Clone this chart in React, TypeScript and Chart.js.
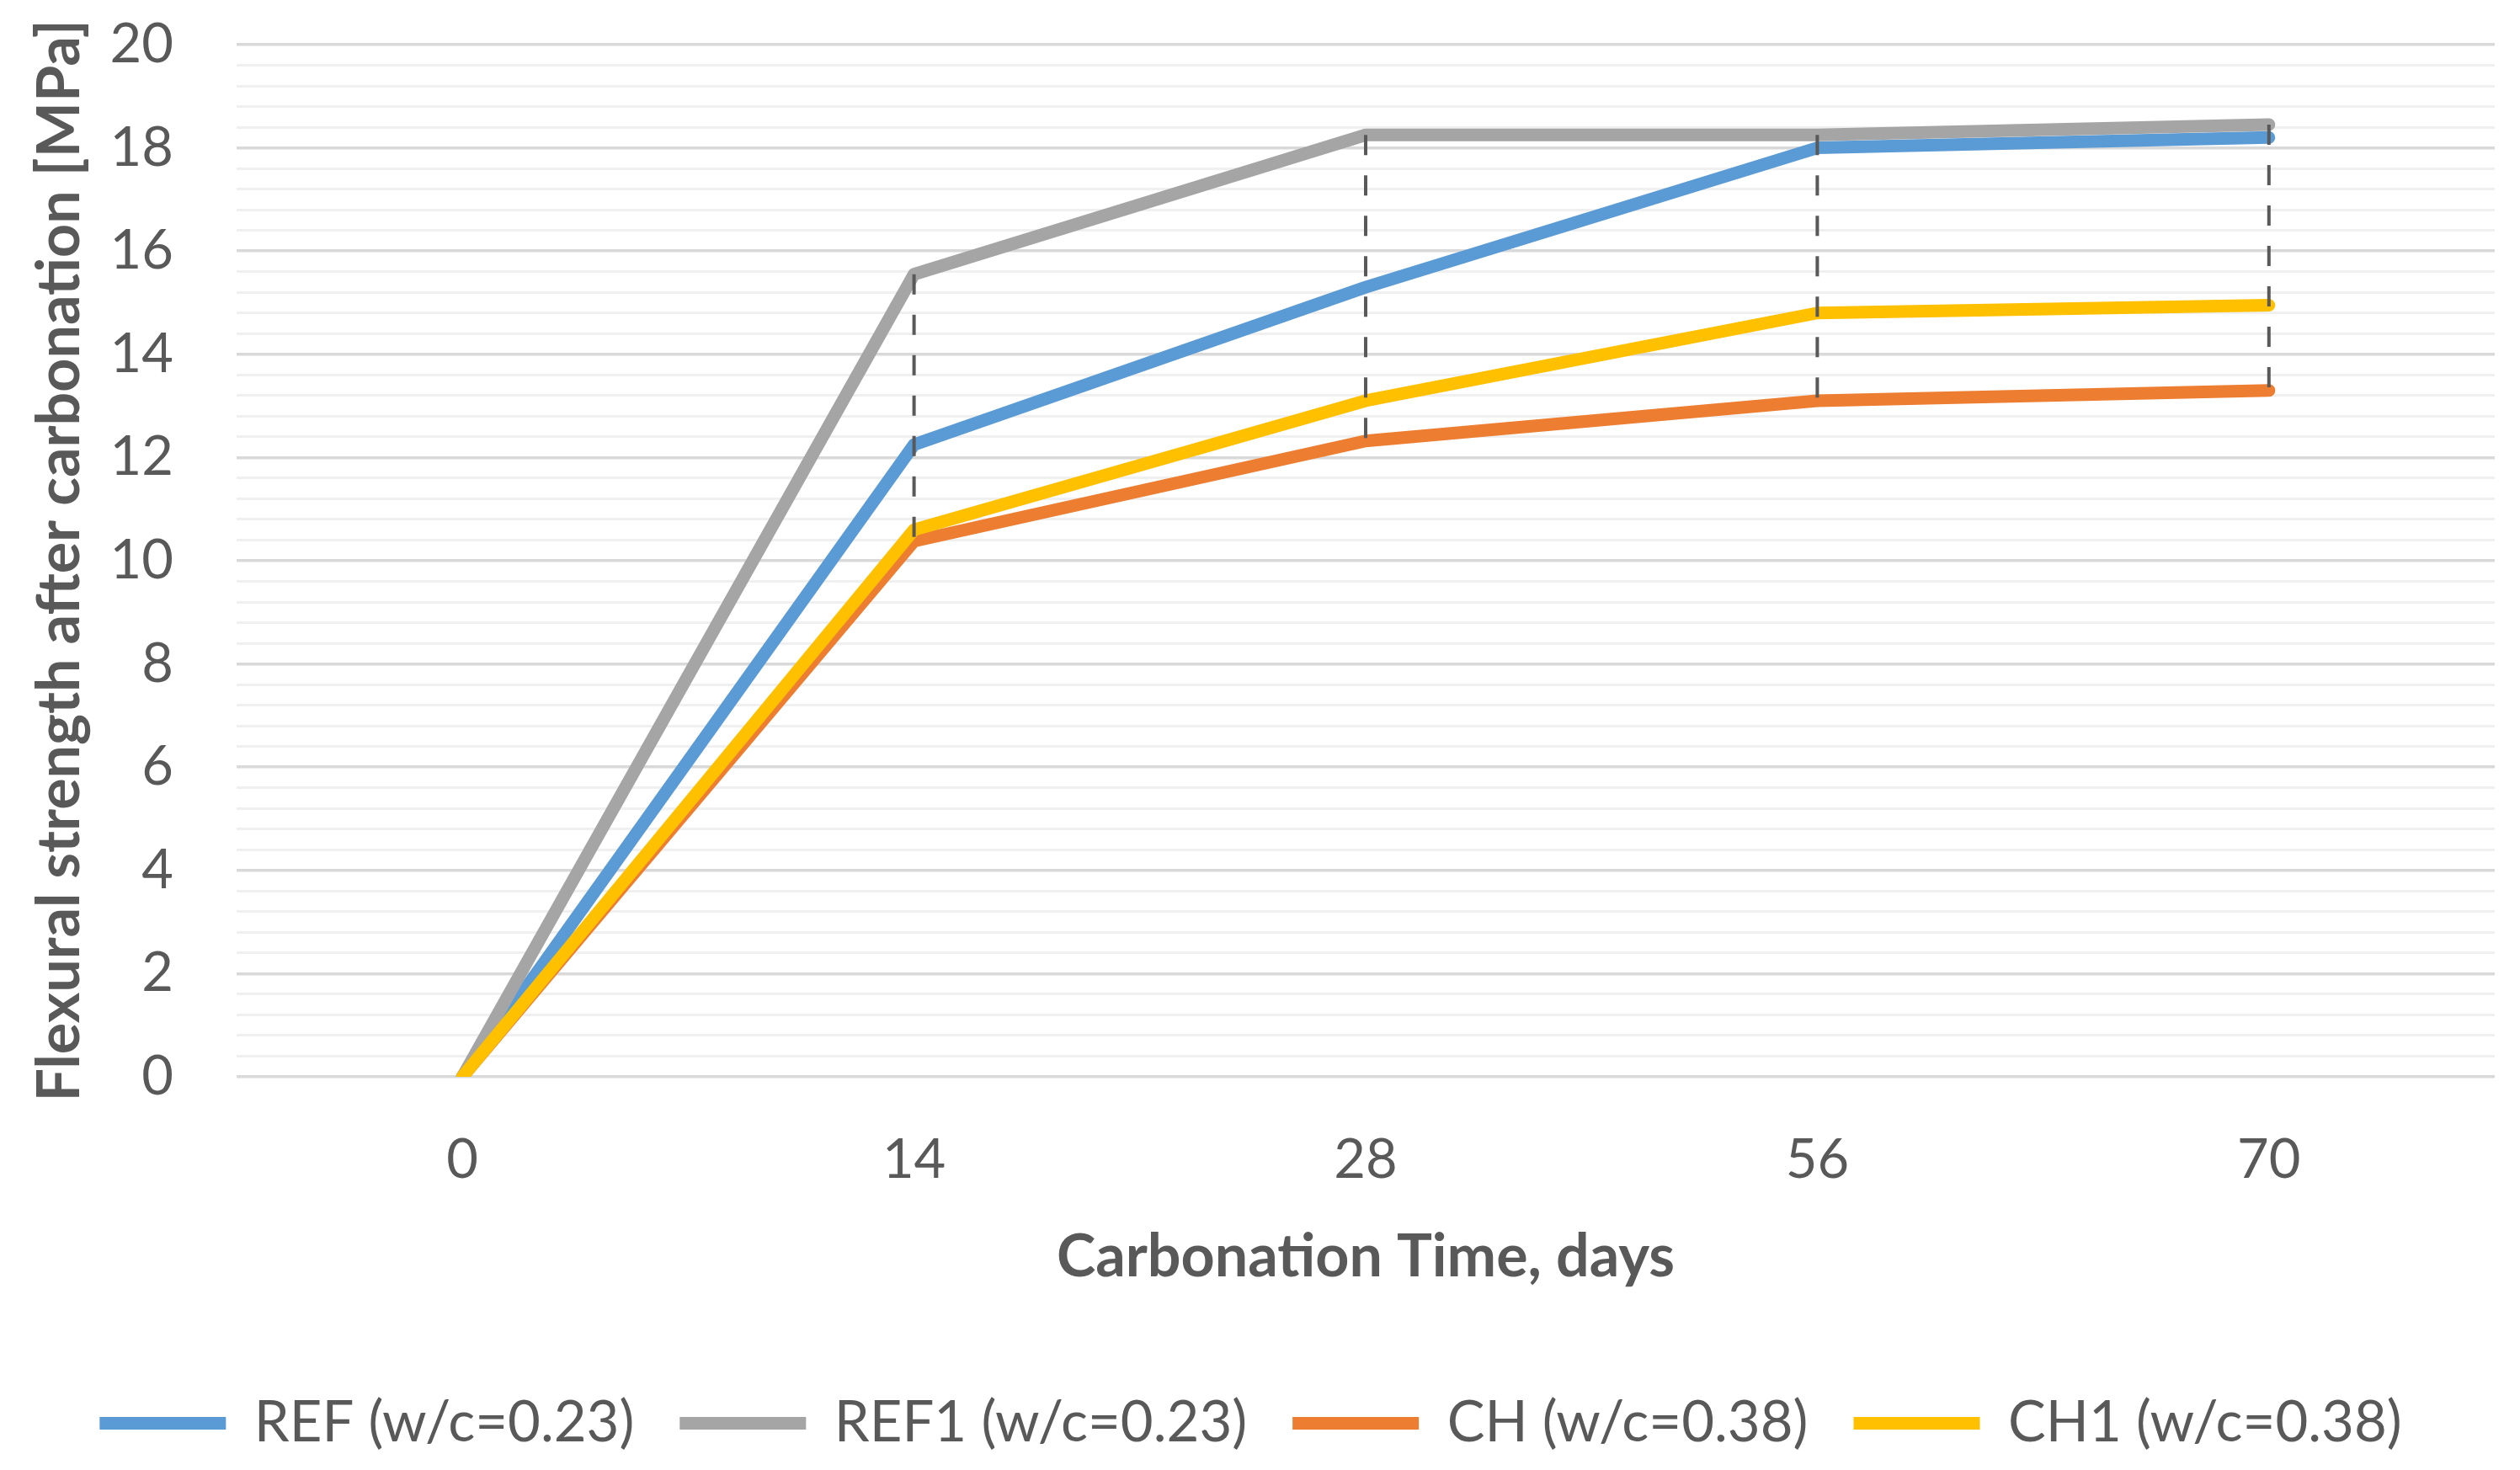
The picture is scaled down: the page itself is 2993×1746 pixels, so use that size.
import React, { useEffect, useRef } from "react";
import { Chart, registerables } from "chart.js";

Chart.register(...registerables);

const days = ["0", "14", "28", "56", "70"];
const refValues = [0, 12.25, 15.3, 18.0, 18.2];
const ref1Values = [0, 15.55, 18.25, 18.25, 18.45];
const chValues = [0, 10.38, 12.32, 13.1, 13.3];
const ch1Values = [0, 10.6, 13.1, 14.8, 14.95];
const yMajorStep = 2;

const TEXT = "#595959";

// dashed high-low lines between the highest and lowest series at each day
const highLowLines = {
    id: "highLowLines",
    afterDatasetsDraw(chart: Chart) {
        const { ctx } = chart;
        const x = chart.scales.x;
        const y = chart.scales.y;
        const series = [refValues, ref1Values, chValues, ch1Values];
        ctx.save();
        ctx.strokeStyle = "#595959";
        ctx.lineWidth = 4;
        ctx.setLineDash([24, 24]);
        days.forEach((_, i) => {
            const vals = series.map((s) => s[i]);
            const hi = Math.max(...vals);
            const lo = Math.min(...vals);
            if (hi === lo) return;
            const px = x.getPixelForValue(i);
            ctx.beginPath();
            ctx.moveTo(px, y.getPixelForValue(hi));
            ctx.lineTo(px, y.getPixelForValue(lo));
            ctx.stroke();
        });
        ctx.restore();
    },
};

const isMajor = (v: number) => Math.abs(v / yMajorStep - Math.round(v / yMajorStep)) < 1e-6;

const lineSet = (label: string, data: number[], color: string, order: number) => ({
    label,
    data,
    borderColor: color,
    backgroundColor: color,
    borderWidth: 15,
    borderCapStyle: "round" as const,
    borderJoinStyle: "round" as const,
    pointRadius: 0,
    pointHoverRadius: 0,
    tension: 0,
    order,
});

const FlexuralChart: React.FC = () => {
    const canvasRef = useRef<HTMLCanvasElement | null>(null);

    useEffect(() => {
        if (!canvasRef.current) return;
        Chart.defaults.font.family = "Lato";
        const chart = new Chart(canvasRef.current, {
            type: "line",
            data: {
                labels: days,
                datasets: [
                    lineSet("REF (w/c=0.23)", refValues, "#5B9BD5", 4),
                    lineSet("REF1 (w/c=0.23)", ref1Values, "#A5A5A5", 3),
                    lineSet("CH (w/c=0.38)", chValues, "#ED7D31", 2),
                    lineSet("CH1 (w/c=0.38)", ch1Values, "#FFC000", 1),
                ],
            },
            options: {
                responsive: true,
                maintainAspectRatio: false,
                animation: false,
                layout: { padding: { top: 45, right: 22, bottom: 4, left: 0 } },
                plugins: {
                    tooltip: { enabled: false },
                    legend: {
                        position: "bottom",
                        maxHeight: 141,
                        labels: {
                            usePointStyle: true,
                            pointStyle: "line",
                            pointStyleWidth: 150,
                            boxHeight: 16,
                            padding: 54,
                            color: TEXT,
                            font: { size: 67 },
                            sort: (a, b) => (a.datasetIndex ?? 0) - (b.datasetIndex ?? 0),
                        },
                    },
                },
                scales: {
                    x: {
                        offset: true,
                        grid: { display: false },
                        border: { display: false },
                        ticks: { color: TEXT, font: { size: 65 }, padding: 52 },
                        title: {
                            display: true,
                            text: "Carbonation Time, days",
                            color: TEXT,
                            font: { size: 70, weight: "bold" },
                            padding: { top: 0, bottom: 68 },
                        },
                        afterFit: (scale) => {
                            scale.height = 324;
                        },
                    },
                    y: {
                        min: 0,
                        max: 20,
                        border: { display: false },
                        grid: {
                            drawTicks: true,
                            tickLength: 75,
                            tickColor: "rgba(0,0,0,0)",
                            color: (ctx) => (ctx.tick && isMajor(ctx.tick.value) ? "#D9D9D9" : "#F0F0F0"),
                            lineWidth: (ctx) => (ctx.tick && isMajor(ctx.tick.value) ? 3.5 : 3),
                        },
                        ticks: {
                            stepSize: 0.4,
                            autoSkip: false,
                            color: TEXT,
                            font: { size: 65 },
                            padding: 0,
                            callback: (v) => (isMajor(Number(v)) ? String(Math.round(Number(v))) : ""),
                        },
                        title: {
                            display: true,
                            text: "Flexural strength after carbonation [MPa]",
                            color: TEXT,
                            font: { size: 70, weight: "bold" },
                            padding: { top: 21, bottom: 0 },
                        },
                        afterFit: (scale) => {
                            scale.width = 273;
                        },
                    },
                },
            },
            plugins: [highLowLines],
        });
        return () => chart.destroy();
    }, []);

    return (
        <div style={{ width: 2977, height: 1730, position: "relative" }}>
            <canvas ref={canvasRef} />
        </div>
    );
};

export default function App() {
    return <FlexuralChart />;
}
